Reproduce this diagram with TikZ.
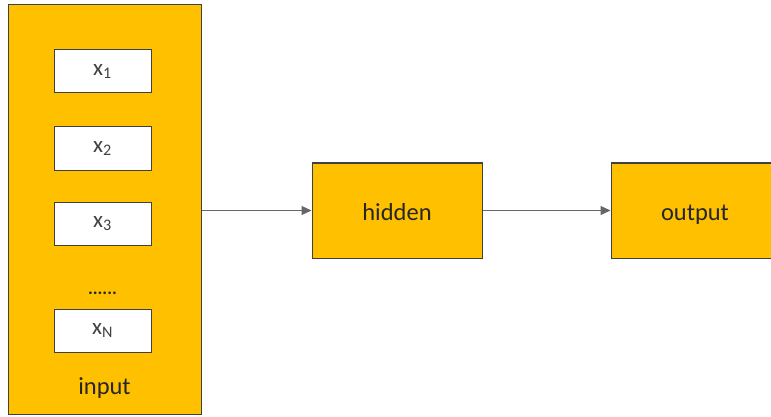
\documentclass[tikz,border=0pt]{standalone}
\usepackage{fontspec}
\setmainfont{Carlito}
\usetikzlibrary{arrows.meta}
\definecolor{boxfill}{HTML}{FFC000}
\definecolor{edge}{HTML}{404040}
\definecolor{wire}{HTML}{666666}
\definecolor{txt}{HTML}{262626}
\definecolor{sub}{HTML}{404040}
\tikzset{
  x=1pt, y=-1pt,
  block/.style={draw=edge, line width=1pt, fill=boxfill, rectangle, inner sep=0pt},
  cell/.style={draw=edge, line width=1pt, fill=white, minimum width=97pt, minimum height=43pt, inner sep=0pt, font=\fontsize{23}{26}\selectfont, text=sub},
  lbl/.style={font=\fontsize{24.5}{28}\selectfont, text=txt, inner sep=0pt, anchor=base},
  link/.style={draw=wire, line width=1pt, -{Triangle[length=10pt,width=9pt]}}
}
\begin{document}
\begin{tikzpicture}
\useasboundingbox (0,0) rectangle (771,417);
% input container
\node[block, minimum width=193pt, minimum height=409pt] (input) at (104.5,209.5) {};
\node[cell] (x1) at (102.5,71.5) {x\textsubscript{1}};
\node[cell] (x2) at (102.5,148.5) {x\textsubscript{2}};
\node[cell] (x3) at (102.5,223.5) {x\textsubscript{3}};
\node[font=\bfseries\fontsize{18}{20}\selectfont, text=txt] (dots) at (102.5,293) {......};
\node[cell] (xN) at (102.5,330.5) {x\textsubscript{N}};
\node[lbl] (inlbl) at (104.5,394) {input};
% hidden and output layers
\node[block, minimum width=170pt, minimum height=95pt] (hidden) at (397,210.5) {};
\node[lbl] (hiddenlbl) at (397,220) {hidden};
\begin{scope}
  \clip (0,0) rectangle (771,417);
  \node[block, minimum width=164pt, minimum height=95pt] (output) at (693,210.5) {};
\end{scope}
\node[lbl] (outputlbl) at (695,220) {output};
% connections
\draw[link] (input.east |- hidden.west) -- (hidden.west);
\draw[link] (hidden.east) -- (output.west);
\end{tikzpicture}
\end{document}
